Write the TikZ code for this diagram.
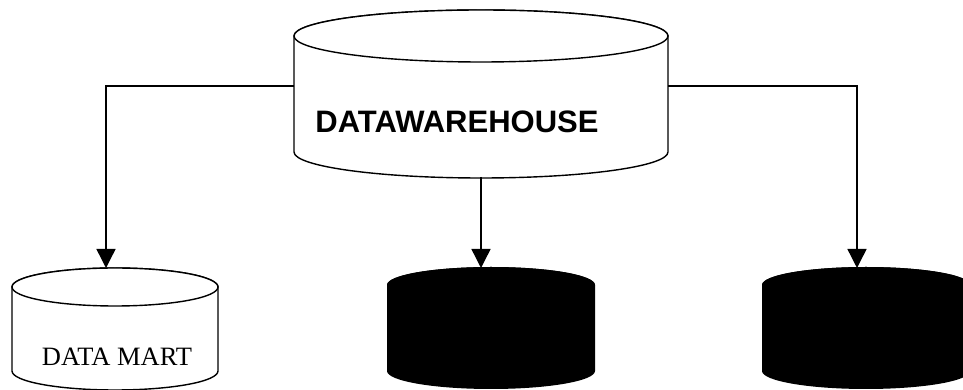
\documentclass[tikz,border=0pt]{standalone}
\usepackage{fontspec}
\setmainfont{Liberation Serif}
\newfontfamily\arialfont{Liberation Sans}
\usetikzlibrary{arrows.meta}
\tikzset{
  lw/.style={line width=1.4pt},
  conn/.style={lw,-{Triangle[width=19pt,length=19pt]}},
  holder/.style={inner sep=0pt,outer sep=0pt,draw=none},
}
% \cylshape{cx}{ytop}{ybot}{rx}{ry}{style}
\newcommand\cylshape[6]{%
  \path[#6] (#1-#4,#2) -- (#1-#4,#3) arc[start angle=180,end angle=360,x radius=#4,y radius=#5] -- (#1+#4,#2) arc[start angle=0,end angle=180,x radius=#4,y radius=#5] -- cycle;
  \path[#6] (#1,#2) ellipse[x radius=#4,y radius=#5];
}
\begin{document}
\begin{tikzpicture}[x=1pt,y=1pt]
\useasboundingbox (0,0) rectangle (963,390);
% data warehouse
\cylshape{481}{354}{238}{187}{26}{draw,lw,fill=white}
\node[holder,minimum width=374pt,minimum height=167pt] (dw) at (481,296.5) {};
\node[font=\arialfont\bfseries\fontsize{31}{36}\selectfont] (dwt) at (457,268) {DATAWAREHOUSE};
% data mart
\cylshape{115}{103}{19}{103}{19}{draw,lw,fill=white}
\node[holder,minimum width=206pt,minimum height=122pt] (dm) at (115,61) {};
\node[font=\fontsize{26.5}{31}\selectfont] (dmt) at (117,33) {DATA MART};
% black cylinders
\cylshape{491}{105}{19}{104}{18}{fill=black}
\node[holder,minimum width=208pt,minimum height=122pt] (m) at (491,61) {};
\cylshape{866}{105}{19}{104}{18}{fill=black}
\node[holder,minimum width=208pt,minimum height=122pt] (r) at (866,61) {};
% connectors
\draw[conn] ([yshift=7.5pt]dw.west) -| ([xshift=-9pt]dm.north);
\draw[conn] ([yshift=7.5pt]dw.east) -| ([xshift=-9pt]r.north);
\draw[conn] (dw.south) -- (dw.south |- m.north);
\end{tikzpicture}
\end{document}
